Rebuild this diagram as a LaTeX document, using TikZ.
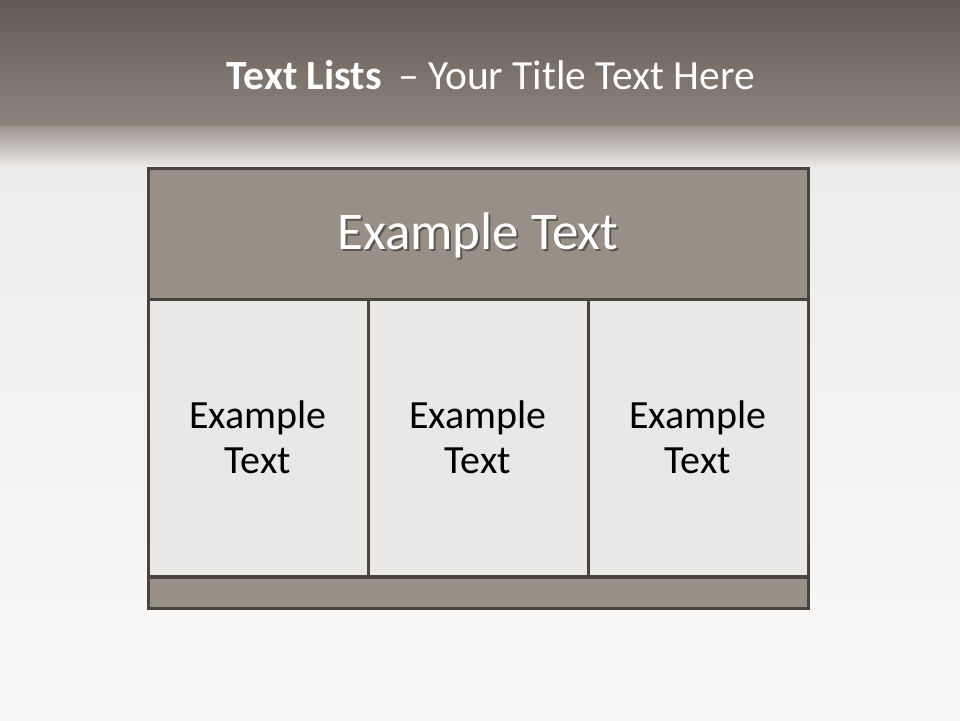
\documentclass[tikz,border=0pt]{standalone}
\usepackage{fontspec}
\setmainfont{Carlito}
\usetikzlibrary{positioning,calc}
\definecolor{bandtop}{HTML}{625A55}
\definecolor{bandbot}{HTML}{8D847C}
\definecolor{paletop}{HTML}{EFEDEB}
\definecolor{palebot}{HTML}{F9F8F6}
\definecolor{framecol}{HTML}{4A443F}
\definecolor{headfill}{HTML}{988F86}
\definecolor{cellfill}{HTML}{E9E8E6}
\newcommand{\shadowtext}[1]{\raisebox{-2pt}[\height][\depth]{\makebox[0pt][l]{\hspace{2pt}\raisebox{-2pt}{\color{headfill!60!black}#1}}#1}}
\tikzset{
  tablebox/.style={draw=framecol,line width=3pt,inner sep=0pt},
  headbox/.style={tablebox,fill=headfill,minimum width=660pt,minimum height=132pt,
    text=white,font=\fontsize{53}{62}\selectfont},
  cellbox/.style={tablebox,fill=cellfill,minimum width=220pt,minimum height=277pt,
    align=center,font=\fontsize{40}{45}\selectfont},
  footbox/.style={tablebox,fill=headfill,minimum width=660pt,minimum height=31pt}
}
\begin{document}
\begin{tikzpicture}[x=1pt,y=-1pt]
  % background
  \useasboundingbox (0,0) rectangle (960,720);
  \shade[top color=bandtop,bottom color=bandbot] (0,0) rectangle (960,126);
  \shade[top color=bandbot!85!paletop,bottom color=paletop] (0,126) rectangle (960,168);
  \shade[top color=paletop,bottom color=palebot] (0,168) rectangle (960,720);
  \node[text=white,font=\fontsize{41.5}{48}\selectfont] (title) at (491,75)
    {\textbf{Text Lists}\, -- Your Title Text Here};
  % table
  \node[headbox] (head) at (478,234) {\shadowtext{Example Text}};
  \foreach \i/\x in {1/258,2/478,3/698}
    \node[cellbox] (cell\i) at (\x,437.5) {Example\\Text};
  \node[footbox] (foot) at (478,592.5) {};
\end{tikzpicture}
\end{document}
